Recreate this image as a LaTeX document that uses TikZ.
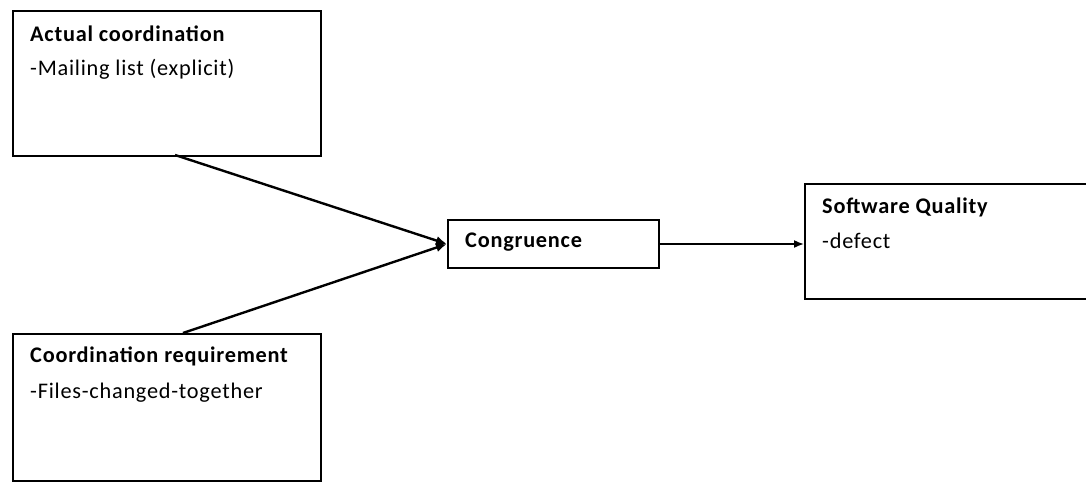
\documentclass[tikz,border=0pt]{standalone}
\usepackage{fontspec}
\setmainfont{Carlito}[LetterSpace=3.4]
\usetikzlibrary{arrows.meta}
\begin{document}
\begin{tikzpicture}[x=1pt,y=-1pt,
  box/.style={draw=black,line width=2pt,fill=white,inner sep=0pt,anchor=north west},
  title/.style={anchor=base west,inner sep=0pt,font=\fontsize{22.3}{25}\selectfont\bfseries},
  item/.style={anchor=base west,inner sep=0pt,font=\fontsize{22.3}{25}\selectfont},
  conn/.style={line width=2.4pt,-{Latex[length=11pt,width=9pt]}},
  connthin/.style={line width=1.6pt,-{Latex[length=10pt,width=8pt]}}]
\useasboundingbox (0,0) rectangle (1086,483);
\clip (0,0) rectangle (1086,483);
\node[box,minimum width=308pt,minimum height=145pt] (ac) at (12,10) {};
\node[box,minimum width=308pt,minimum height=147pt] (cr) at (12,333) {};
\node[box,minimum width=211pt,minimum height=48pt] (cg) at (447,219) {};
\node[box,minimum width=290pt,minimum height=115pt] (sq) at (804,183) {};
\node[title] (t1) at (30,41) {Actual coordination};
\node[item] (i1) at (30,75) {-Mailing list (explicit)};
\node[title] (t2) at (30,362) {Coordination requirement};
\node[item] (i2) at (30,398) {-Files-changed-together};
\node[title] (t3) at (465,247) {Congruence};
\node[title] (t4) at (822,213) {Software Quality};
\node[item] (i4) at (822,248) {-defect};
\coordinate (acb) at (175,155);
\coordinate (crt) at (183,333);
\draw[conn] (acb) -- (cg.west);
\draw[conn] (crt) -- (cg.west);
\draw[connthin] (cg.east) -- (sq.west |- cg.east);
\end{tikzpicture}
\end{document}
